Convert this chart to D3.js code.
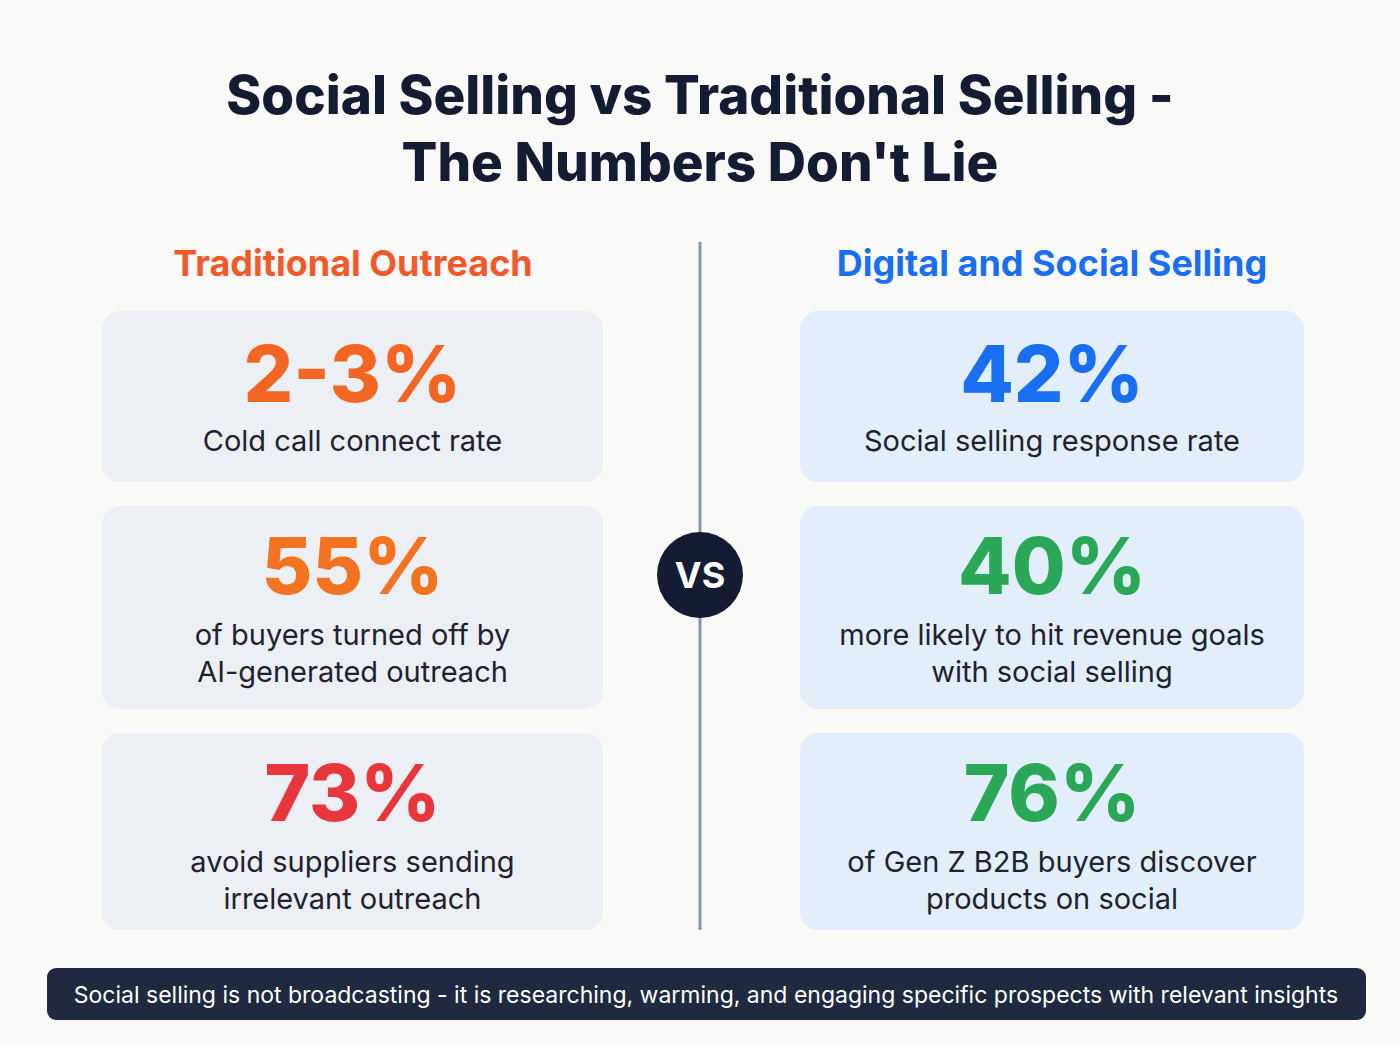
<!DOCTYPE html>
<html>
<head>
<meta charset="utf-8">
<script src="https://cdn.jsdelivr.net/npm/d3@7"></script>
<style>
  body { margin: 0; background: #f9f9f8; }
  svg { display: block; font-family: Inter, "Noto Sans", sans-serif; }
</style>
</head>
<body>
<div id="chart"></div>
<script>
const titleLines = ["Social Selling vs Traditional Selling -", "The Numbers Don't Lie"];
const sides = ["Traditional Outreach", "Digital and Social Selling"];
const leftValues = ["2-3%", "55%", "73%"];
const leftLabels = [["Cold call connect rate"], ["of buyers turned off by", "AI-generated outreach"], ["avoid suppliers sending", "irrelevant outreach"]];
const leftColors = ["#f26522", "#f37321", "#e8363d"];
const rightValues = ["42%", "40%", "76%"];
const rightLabels = [["Social selling response rate"], ["more likely to hit revenue goals", "with social selling"], ["of Gen Z B2B buyers discover", "products on social"]];
const rightColors = ["#1a6ef0", "#2aa857", "#2aa857"];
const footer = "Social selling is not broadcasting - it is researching, warming, and engaging specific prospects with relevant insights";

const width = 1400, height = 1045;
const svg = d3.select("#chart").append("svg").attr("width", width).attr("height", height);

svg.selectAll("text.title").data(titleLines).join("text")
    .attr("x", 700).attr("y", (d, i) => 114 + i * 67)
    .attr("text-anchor", "middle").attr("font-size", 53).attr("font-weight", 800)
    .attr("fill", "#141c33").text(d => d);

const sideX = d3.scaleOrdinal(sides, [353, 1052]);
const sideColor = d3.scaleOrdinal(sides, ["#f05a2a", "#1a6ef0"]);
svg.selectAll("text.side").data(sides).join("text")
    .attr("x", d => sideX(d)).attr("y", 276)
    .attr("text-anchor", "middle").attr("font-size", 36).attr("font-weight", 700)
    .attr("fill", d => sideColor(d)).text(d => d);

// divider and vs badge
svg.append("line").attr("x1", 700).attr("x2", 700).attr("y1", 242).attr("y2", 930)
    .attr("stroke", "#8797ae").attr("stroke-width", 3);
svg.append("circle").attr("cx", 700).attr("cy", 575).attr("r", 43).attr("fill", "#141c33");
svg.append("text").attr("x", 700).attr("y", 588).attr("text-anchor", "middle")
    .attr("font-size", 36).attr("font-weight", 700).attr("fill", "#fff").text("VS");

const rowTop = [311, 506, 733], rowH = [171, 203, 197];
const cards = [];
leftValues.forEach((v, i) => cards.push({side: 0, i, value: v, label: leftLabels[i], color: leftColors[i]}));
rightValues.forEach((v, i) => cards.push({side: 1, i, value: v, label: rightLabels[i], color: rightColors[i]}));
const cardX = [102, 800], cardW = [501, 504], cardFill = ["#eceff4", "#e3eefb"];

const g = svg.selectAll("g.card").data(cards).join("g")
    .attr("transform", d => `translate(${cardX[d.side]},${rowTop[d.i]})`);
g.append("rect").attr("width", d => cardW[d.side]).attr("height", d => rowH[d.i])
    .attr("rx", 18).attr("fill", d => cardFill[d.side]);
g.append("text").attr("x", d => cardW[d.side] / 2).attr("y", d => d.i === 0 ? 91 : 88)
    .attr("text-anchor", "middle").attr("font-size", 78).attr("font-weight", 800)
    .attr("fill", d => d.color).text(d => d.value);
g.each(function(d) {
    d3.select(this).selectAll("text.lbl").data(d.label).join("text")
        .attr("x", cardW[d.side] / 2).attr("y", (t, j) => (d.i === 0 ? 140 : 139) + j * 37)
        .attr("text-anchor", "middle").attr("font-size", 29).attr("fill", "#1e2230").text(t => t);
});

svg.append("rect").attr("x", 47).attr("y", 968).attr("width", 1319).attr("height", 52)
    .attr("rx", 9).attr("fill", "#1f2a40");
svg.append("text").attr("x", 706).attr("y", 1003).attr("text-anchor", "middle")
    .attr("font-size", 23).attr("fill", "#fff").text(footer);
</script>
</body>
</html>
